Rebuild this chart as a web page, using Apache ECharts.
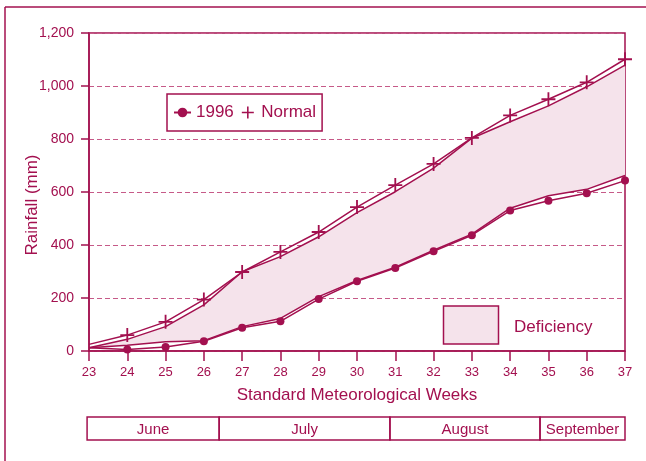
<!DOCTYPE html>
<html><head><meta charset="utf-8">
<script src="https://cdn.jsdelivr.net/npm/echarts@6/dist/echarts.min.js"></script>
<style>html,body{margin:0;padding:0;background:#fff}#c{width:646px;height:461px}</style>
</head><body><div id="c"></div>
<script>
// ---- data ----
const weeks = ['23','24','25','26','27','28','29','30','31','32','33','34','35','36','37'];
const normal      = [25, 60, 110, 194, 298, 374, 449, 543, 626, 706, 804, 889, 950, 1014, 1101];
const normalEdge  = [12, 44, 92, 174, 299, 356, 431, 522, 601, 690, 803, 865, 925, 997, 1079];
const rain1996    = [12, 6, 15, 37, 88, 112, 196, 263, 313, 376, 437, 530, 567, 595, 643];
const edge1996    = [12, 22, 35, 39, 92, 123, 205, 266, 316, 380, 441, 539, 586, 610, 662];
const months      = ['June', 'July', 'August', 'September'];
const monthEdges  = [22.95, 26.4, 30.86, 34.78, 37];   // in week units

// ---- style ----
const C = '#a3104f';
const FILL = '#f5e3eb';
const GRIDC = '#c65a88';
const FONT = 'Liberation Sans';
const PLUS = 'path://M4.35,0H5.65V10H4.35Z M0,4.35H10V5.65H0Z';

const chart = echarts.init(document.getElementById('c'), null, {renderer: 'canvas'});

const option = {
  animation: false,
  textStyle: {fontFamily: FONT, color: C},
  grid: {left: 89, right: 21, top: 33, bottom: 110, show: true, borderColor: C, borderWidth: 1.5, backgroundColor: 'transparent'},
  legend: {
    left: 167, top: 94, orient: 'horizontal',
    borderColor: C, borderWidth: 1.5, borderRadius: 0,
    padding: [10, 6, 10, 6], itemGap: 8, itemWidth: 17, itemHeight: 12,
    textStyle: {fontSize: 17, color: C, fontFamily: FONT},
    data: [{name: '1996'}, {name: 'Normal', icon: PLUS}]
  },
  xAxis: {
    type: 'category', data: weeks, boundaryGap: false,
    axisLine: {lineStyle: {color: C, width: 1.5}},
    axisTick: {show: true, length: 10, lineStyle: {color: C, width: 1.5}},
    axisLabel: {fontSize: 13, color: C, margin: 15, fontFamily: FONT},
    splitLine: {show: false}
  },
  yAxis: {
    type: 'value', min: 0, max: 1200, interval: 200,
    axisLine: {show: true, lineStyle: {color: C, width: 1.5}},
    axisTick: {show: true, length: 8, lineStyle: {color: C, width: 1.5}},
    axisLabel: {fontSize: 14, color: C, margin: 15, fontFamily: FONT,
      formatter: v => v.toLocaleString('en-US')},
    splitLine: {show: true, lineStyle: {color: GRIDC, type: [5, 3], width: 1}}
  },
  series: [
    {name: 'edge1996', type: 'line', stack: 'def', data: edge1996, symbol: 'none',
     lineStyle: {color: C, width: 1.5}, itemStyle: {color: C}, z: 2},
    {name: 'Deficiency', type: 'line', stack: 'def', data: normalEdge.map((v, i) => v - edge1996[i]), symbol: 'none',
     lineStyle: {color: C, width: 1.5}, itemStyle: {color: C}, areaStyle: {color: FILL, opacity: 1}, z: 2},
    {name: '1996', type: 'line', data: rain1996.map((v, i) => i === 0 ? {value: v, symbol: 'none'} : v),
     symbol: 'circle', symbolSize: 8, showAllSymbol: true,
     lineStyle: {color: C, width: 1.5}, itemStyle: {color: C}, z: 3},
    {name: 'Normal', type: 'line', data: normal.map((v, i) => i === 0 ? {value: v, symbol: 'none'} : v),
     symbol: PLUS, symbolSize: 14, showAllSymbol: true,
     lineStyle: {color: C, width: 1.5}, itemStyle: {color: C}, z: 3}
  ]
};
chart.setOption(option);

// ---- annotations built from axis positions ----
const x0 = chart.convertToPixel({xAxisIndex: 0}, 0);
const x1 = chart.convertToPixel({xAxisIndex: 0}, weeks.length - 1);
const wk = w => x0 + (w - Number(weeks[0])) / (weeks.length - 1) * (x1 - x0);
const tTop = 417, tH = 23;
const graphics = [
  {type: 'line', shape: {x1: 5, y1: 7, x2: 5, y2: 461}, style: {stroke: C, lineWidth: 1.5}},
  {type: 'line', shape: {x1: 5, y1: 7, x2: 646, y2: 7}, style: {stroke: C, lineWidth: 1.5}},
  {type: 'text', x: 32, y: 205, rotation: Math.PI / 2,
   style: {text: 'Rainfall (mm)', fill: C, font: '17px "' + FONT + '"', align: 'center', verticalAlign: 'middle'}},
  {type: 'text', x: (x0 + x1) / 2, y: 395,
   style: {text: 'Standard Meteorological Weeks', fill: C, font: '17px "' + FONT + '"', align: 'center', verticalAlign: 'middle'}},
  {type: 'rect', shape: {x: 443.5, y: 306, width: 55, height: 38}, style: {fill: FILL, stroke: C, lineWidth: 1.5}},
  {type: 'text', x: 514, y: 327.5,
   style: {text: 'Deficiency', fill: C, font: '17px "' + FONT + '"', align: 'left', verticalAlign: 'middle'}}
];
months.forEach((m, i) => {
  const a = wk(monthEdges[i]), b = wk(monthEdges[i + 1]);
  graphics.push({type: 'rect', shape: {x: a, y: tTop, width: b - a, height: tH}, style: {fill: 'none', stroke: C, lineWidth: 1.5}});
  graphics.push({type: 'text', x: (a + b) / 2, y: tTop + tH / 2 + 1,
    style: {text: m, fill: C, font: '15px "' + FONT + '"', align: 'center', verticalAlign: 'middle'}});
});
chart.setOption({graphic: graphics});
</script>
</body></html>
